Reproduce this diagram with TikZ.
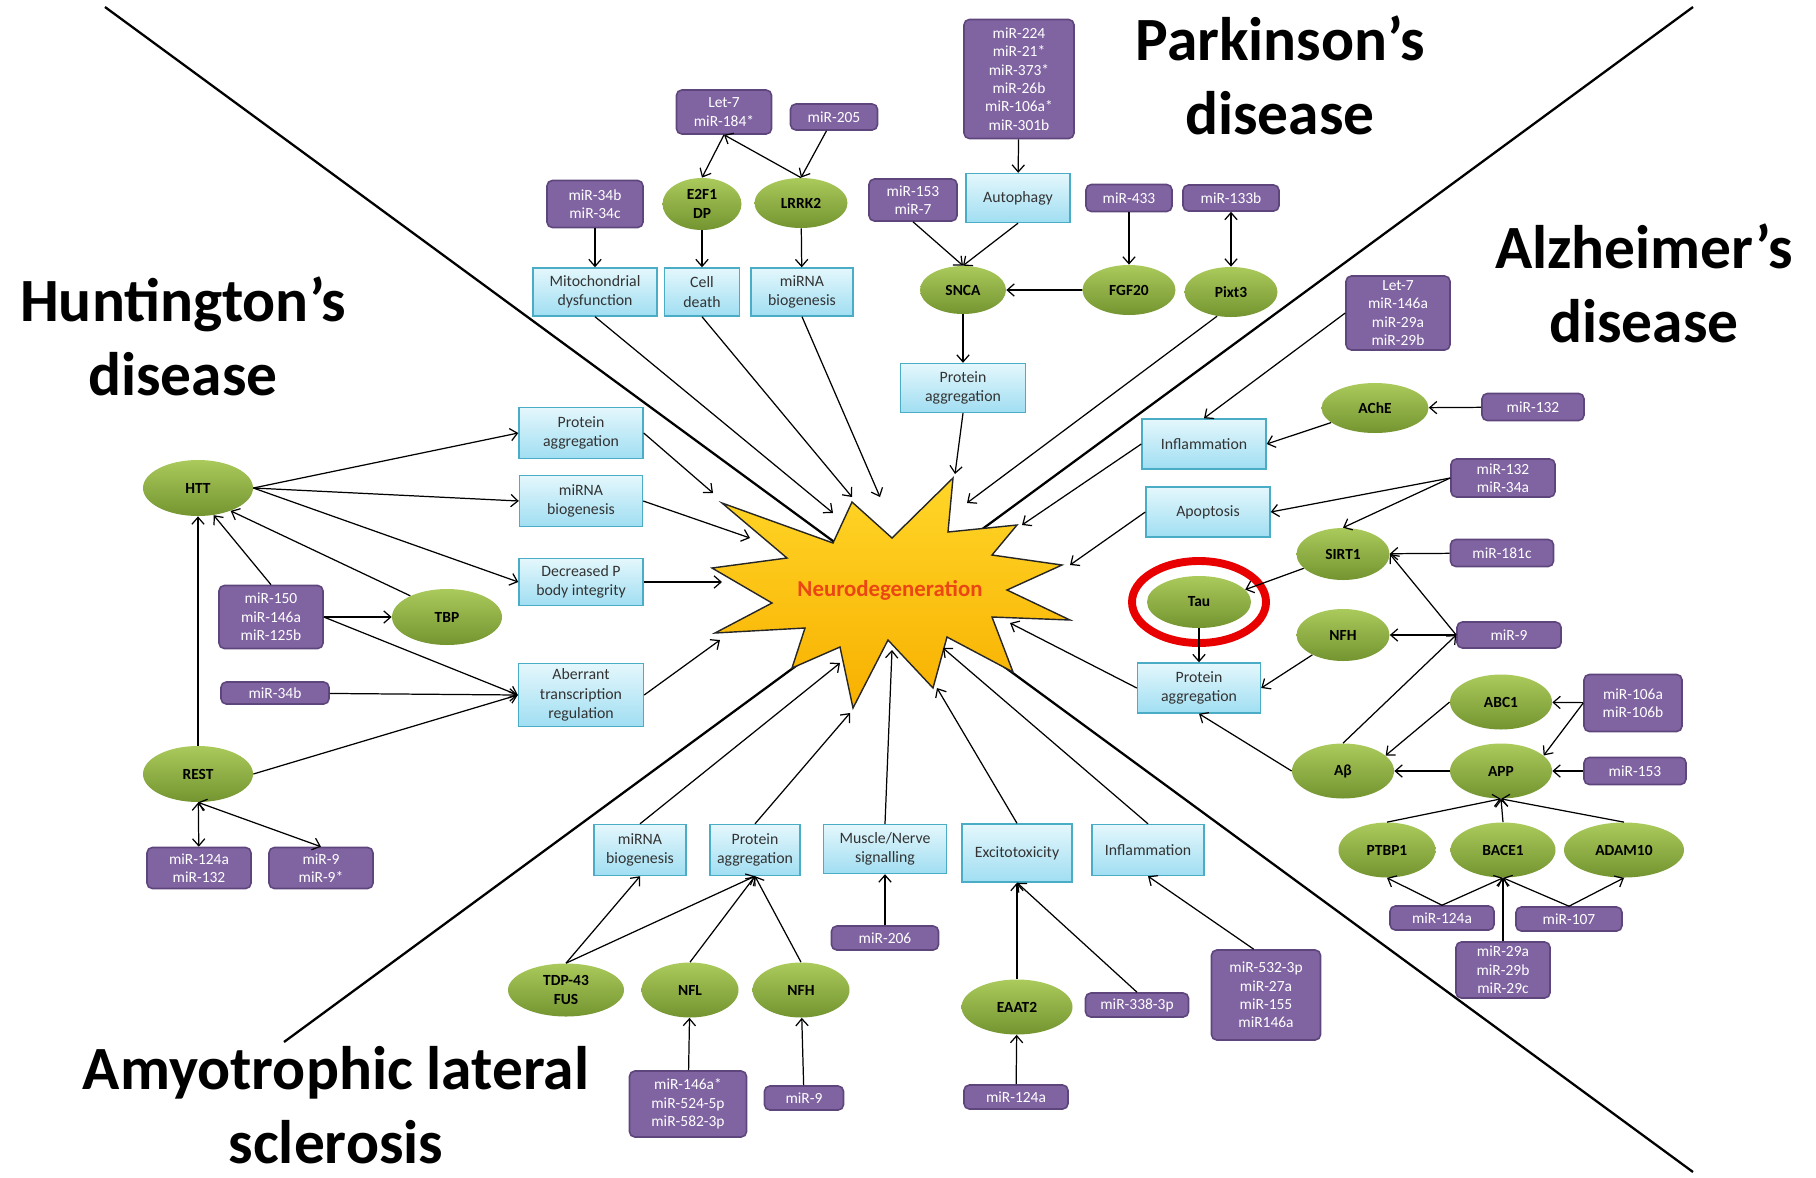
\documentclass[tikz,border=0pt]{standalone}
\usepackage{fontspec}
\setmainfont{Carlito}
\usetikzlibrary{shapes.geometric, arrows.meta}

\definecolor{mirfill}{RGB}{128,100,162}
\definecolor{mirline}{RGB}{94,70,125}
\definecolor{proctop}{RGB}{228,247,252}
\definecolor{procbot}{RGB}{160,222,242}
\definecolor{procline}{RGB}{75,172,198}
\definecolor{genetop}{RGB}{170,202,92}
\definecolor{genebot}{RGB}{116,148,48}
\definecolor{startop}{RGB}{255,214,40}
\definecolor{starbot}{RGB}{248,176,0}
\definecolor{neuro}{RGB}{235,70,20}
\definecolor{ringred}{RGB}{232,0,0}

\tikzset{
  sz/.style 2 args={minimum width=#1*0.02cm, minimum height=#2*0.02cm},
  mirna/.style={rectangle, rounded corners=3pt, draw=mirline, line width=0.9pt, fill=mirfill, text=white, font=\fontsize{8.8}{10.5}\selectfont, align=center, inner sep=1pt},
  effect/.style={rectangle, draw=procline, line width=0.8pt, top color=proctop, bottom color=procbot, text=black!80, font=\fontsize{9}{11}\selectfont, align=center, inner sep=1pt},
  gene/.style={ellipse, top color=genetop, bottom color=genebot, font=\fontsize{8.8}{11}\selectfont\bfseries, align=center, inner sep=0pt},
  disease/.style={font=\fontsize{35}{42}\selectfont\bfseries, align=center},
  conn/.style={-{Straight Barb[length=4pt, width=7pt]}, line width=0.7pt},
  conn2/.style={{Straight Barb[length=4pt, width=7pt]}-{Straight Barb[length=4pt, width=7pt]}, line width=0.7pt},
}

\begin{document}
\begin{tikzpicture}[x=0.02cm, y=-0.02cm]
\useasboundingbox (0, 0) rectangle (1816, 1177);

% quadrant lines
\coordinate (dTL) at (105, 7);
\coordinate (dBR) at (1693, 1172);
\coordinate (dTR) at (1693, 7);
\coordinate (dBL) at (284, 1042);
\draw [line width=1.3pt] (dTL) -- (dBR);
\draw [line width=1.3pt] (dTR) -- (dBL);

\node [disease] (tPD) at (1280, 75) {Parkinson’s\\disease};
\node [disease] (tAD) at (1644, 283) {Alzheimer’s\\disease};
\node [disease] (tHD) at (183, 336) {Huntington’s\\disease};
\node [disease] (tALS) at (336, 1105) {Amyotrophic lateral\\sclerosis};

% the star
\draw [top color=startop, bottom color=starbot, draw=black!85, line width=0.8pt]
  (722, 503) -- (833, 543) -- (852, 502) -- (892, 538) -- (953, 478) -- (948, 532)
  -- (1017, 525) -- (992, 555) -- (1062, 565) -- (1007, 590) -- (1070, 620) -- (992, 617)
  -- (1013, 672) -- (947, 637) -- (933, 688) -- (888, 640) -- (853, 708) -- (840, 647)
  -- (792, 668) -- (805, 628) -- (715, 633) -- (772, 603) -- (712, 568) -- (787, 558) -- cycle;
\node [font=\fontsize{13}{15}\selectfont\bfseries, text=neuro] (neuro) at (890, 590) {Neurodegeneration};

\coordinate (sHdProt) at (713, 493);
\coordinate (sHdBio) at (750, 538);
\coordinate (sHdPbody) at (722, 582);
\coordinate (sHdAberr) at (720, 640);
\coordinate (sMito) at (833, 513);
\coordinate (sDeath) at (852, 497);
\coordinate (sPdBio) at (880, 497);
\coordinate (sPdProt) at (955, 474);
\coordinate (sPixt) at (967, 503);
\coordinate (sAdInfl) at (1022, 525);
\coordinate (sAdApop) at (1070, 565);
\coordinate (sAdProt) at (1010, 623);
\coordinate (sAlsInfl) at (943, 648);
\coordinate (sAlsExc) at (937, 688);
\coordinate (sAlsMusc) at (892, 650);
\coordinate (sAlsProt) at (850, 713);
\coordinate (sAlsBio) at (840, 663);

% Parkinson's
\node [mirna, sz={110}{119}] (pdMirA) at (1019, 79) {miR-224\\miR-21*\\miR-373*\\miR-26b\\miR-106a*\\miR-301b};
\node [mirna, sz={95}{44}] (pdLet) at (724, 112) {Let-7\\miR-184*};
\node [mirna, sz={87}{26}] (pdMir205) at (834, 117) {miR-205};
\node [mirna, sz={96}{47}] (pdMir34) at (595, 204) {miR-34b\\miR-34c};
\node [gene, sz={79}{52}] (pdE2F) at (702, 204) {E2F1\\DP};
\node [gene, sz={93}{50}] (pdLRRK) at (801, 203) {LRRK2};
\node [mirna, sz={88}{42}] (pdMir153) at (913, 200) {miR-153\\miR-7};
\node [effect, sz={104}{49}] (pdAuto) at (1018, 198) {Autophagy};
\node [mirna, sz={86}{27}] (pdMir433) at (1129, 198) {miR-433};
\node [mirna, sz={96}{26}] (pdMir133) at (1231, 198) {miR-133b};
\node [effect, sz={124}{48}] (pdMito) at (595, 292) {Mitochondrial\\dysfunction};
\node [effect, sz={75}{48}] (pdDeath) at (702, 292) {Cell\\death};
\node [effect, sz={102}{48}] (pdBio) at (802, 292) {miRNA\\biogenesis};
\node [gene, sz={86}{48}] (pdSNCA) at (963, 290) {SNCA};
\node [gene, sz={93}{50}] (pdFGF) at (1129, 290) {FGF20};
\node [gene, sz={93}{50}] (pdPixt) at (1231, 292) {Pixt3};
\node [effect, sz={125}{49}] (pdProt) at (963, 388) {Protein\\aggregation};

% Alzheimer's
\node [mirna, sz={104}{74}] (adMirLet) at (1398, 313) {Let-7\\miR-146a\\miR-29a\\miR-29b};
\node [gene, sz={107}{50}] (adAChE) at (1375, 408) {AChE};
\node [mirna, sz={102}{27}] (adMir132) at (1533, 407) {miR-132};
\node [effect, sz={124}{50}] (adInfl) at (1204, 444) {Inflammation};
\node [mirna, sz={104}{38}] (adMir34) at (1503, 478) {miR-132\\miR-34a};
\node [effect, sz={124}{50}] (adApop) at (1208, 512) {Apoptosis};
\node [gene, sz={93}{52}] (adSIRT) at (1343, 554) {SIRT1};
\node [mirna, sz={103}{27}] (adMir181) at (1502, 553) {miR-181c};
\node [gene, sz={104}{52}] (adTau) at (1199, 602) {Tau};
\node [gene, sz={93}{52}] (adNFH) at (1343, 635) {NFH};
\node [mirna, sz={104}{26}] (adMir9) at (1509, 635) {miR-9};
\node [effect, sz={123}{50}] (adProt) at (1199, 688) {Protein\\aggregation};
\node [gene, sz={102}{55}] (adABC) at (1501, 702) {ABC1};
\node [mirna, sz={98}{57}] (adMir106) at (1633, 703) {miR-106a\\miR-106b};
\node [gene, sz={102}{55}] (adAbeta) at (1343, 771) {Aβ};
\node [gene, sz={102}{55}] (adAPP) at (1501, 771) {APP};
\node [mirna, sz={102}{27}] (adMir153) at (1635, 771) {miR-153};
\node [gene, sz={97}{55}] (adPTBP) at (1387, 850) {PTBP1};
\node [gene, sz={105}{55}] (adBACE) at (1503, 850) {BACE1};
\node [gene, sz={120}{55}] (adADAM) at (1624, 850) {ADAM10};
\node [mirna, sz={104}{24}] (adMir124) at (1442, 918) {miR-124a};
\node [mirna, sz={106}{24}] (adMir107) at (1569, 919) {miR-107};
\node [mirna, sz={94}{56}] (adMir29) at (1503, 970) {miR-29a\\miR-29b\\miR-29c};
\draw [ringred, line width=4.5pt] (adTau) ellipse [x radius=67, y radius=41];

% Huntington's
\node [effect, sz={124}{51}] (hdProt) at (581, 433) {Protein\\aggregation};
\node [effect, sz={123}{51}] (hdBio) at (581, 501) {miRNA\\biogenesis};
\node [effect, sz={124}{47}] (hdPbody) at (581, 582) {Decreased P\\body integrity};
\node [effect, sz={125}{63}] (hdAberr) at (581, 695) {Aberrant\\transcription\\regulation};
\node [gene, sz={110}{56}] (hdHTT) at (198, 488) {HTT};
\node [mirna, sz={104}{63}] (hdMir150) at (271, 617) {miR-150\\miR-146a\\miR-125b};
\node [gene, sz={110}{56}] (hdTBP) at (447, 617) {TBP};
\node [mirna, sz={108}{22}] (hdMir34) at (275, 693) {miR-34b};
\node [gene, sz={110}{56}] (hdREST) at (198, 774) {REST};
\node [mirna, sz={104}{41}] (hdMir124) at (199, 868) {miR-124a\\miR-132};
\node [mirna, sz={104}{41}] (hdMir9) at (321, 868) {miR-9\\miR-9*};

% Amyotrophic lateral sclerosis
\node [effect, sz={92}{51}] (alsBio) at (640, 850) {miRNA\\biogenesis};
\node [effect, sz={90}{51}] (alsProt) at (755, 850) {Protein\\aggregation};
\node [effect, sz={123}{49}] (alsMusc) at (885, 849) {Muscle/Nerve\\signalling};
\node [effect, sz={110}{58}] (alsExc) at (1017, 853) {Excitotoxicity};
\node [effect, sz={112}{51}] (alsInfl) at (1148, 850) {Inflammation};
\node [gene, sz={116}{53}] (alsTDP) at (566, 990) {TDP-43\\FUS};
\node [gene, sz={97}{55}] (alsNFL) at (690, 990) {NFL};
\node [gene, sz={97}{55}] (alsNFH) at (801, 990) {NFH};
\node [mirna, sz={107}{24}] (alsMir206) at (885, 938) {miR-206};
\node [gene, sz={111}{55}] (alsEAAT) at (1017, 1007) {EAAT2};
\node [mirna, sz={103}{24}] (alsMir338) at (1137, 1005) {miR-338-3p};
\node [mirna, sz={109}{90}] (alsMir532) at (1266, 995) {miR-532-3p\\miR-27a\\miR-155\\miR146a};
\node [mirna, sz={117}{66}] (alsMir146) at (688, 1104) {miR-146a*\\miR-524-5p\\miR-582-3p};
\node [mirna, sz={79}{24}] (alsMir9) at (804, 1098) {miR-9};
\node [mirna, sz={104}{24}] (alsMir124) at (1016, 1097) {miR-124a};

% Parkinson's links
\draw [conn] (pdLet.south) -- (pdE2F.north);
\draw [conn] (pdLRRK.north) -- (pdLet.south);
\draw [conn] (pdMir205) -- (pdLRRK.north);
\draw [conn] (pdMir34) -- (pdMito);
\draw [conn] (pdE2F) -- (pdDeath);
\draw [conn] (pdLRRK) -- (pdBio);
\draw [conn] (pdMirA) -- (pdAuto);
\draw [conn] (pdMir153.south) -- (pdSNCA.north);
\draw [conn] (pdAuto.south) -- (pdSNCA.north);
\draw [conn] (pdFGF) -- (pdSNCA);
\draw [conn] (pdMir433) -- (pdFGF);
\draw [conn2] (pdMir133) -- (pdPixt);
\draw [conn] (pdSNCA) -- (pdProt);
\draw [conn] (pdMito.south) -- (sMito);
\draw [conn] (pdDeath.south) -- (sDeath);
\draw [conn] (pdBio.south) -- (sPdBio);
\draw [conn] (pdProt.south) -- (sPdProt);
\draw [conn] (pdPixt.240) -- (sPixt);

% Alzheimer's links
\draw [conn] (adMirLet.west) -- (adInfl.north);
\draw [conn] (adMir132) -- (adAChE);
\draw [conn] (adAChE) -- (adInfl.east);
\draw [conn] (adMir34.west) -- (adApop.east);
\draw [conn] (adMir34.west) -- (adSIRT.north);
\draw [conn] (adMir181) -- (adSIRT);
\draw [conn] (adSIRT) -- (adTau.15);
\draw [conn] (adMir9) -- (adNFH);
\draw [conn] (adMir9.west) -- (adSIRT.east);
\draw [conn] (adAbeta.north) -- (adMir9.west);
\draw [conn] (adTau) -- (adProt);
\draw [conn] (adNFH) -- (adProt.east);
\draw [conn] (adAbeta.west) -- (adProt.south);
\draw [conn] (adAPP) -- (adAbeta);
\draw [conn] (adABC.west) -- (adAbeta.20);
\draw [conn] (adMir106) -- (adABC);
\draw [conn] (adMir106.west) -- (adAPP.20);
\draw [conn] (adMir153) -- (adAPP);
\draw [conn] (adPTBP.north) -- (adAPP.south);
\draw [conn] (adBACE.north) -- (adAPP.south);
\draw [conn] (adADAM.north) -- (adAPP.south);
\draw [conn] (adMir124.north) -- (adPTBP.south);
\draw [conn] (adMir124.north) -- (adBACE.south);
\draw [conn] (adMir107.north) -- (adBACE.south);
\draw [conn] (adMir107.north) -- (adADAM.south);
\draw [conn] (adMir29) -- (adBACE);
\draw [conn] (adInfl.west) -- (sAdInfl);
\draw [conn] (adApop.west) -- (sAdApop);
\draw [conn] (adProt.west) -- (sAdProt);

% Huntington's links
\draw [conn] (hdHTT.east) -- (hdProt.west);
\draw [conn] (hdHTT.east) -- (hdBio.west);
\draw [conn] (hdHTT.east) -- (hdPbody.west);
\draw [conn] (hdMir150.north) -- (hdHTT.-60);
\draw [conn] (hdTBP.150) -- (hdHTT.-35);
\draw [conn] (hdMir150) -- (hdTBP);
\draw [conn] (hdMir150.east) -- (hdAberr.west);
\draw [conn] (hdMir34) -- (hdAberr.west);
\draw [conn] (hdREST.east) -- (hdAberr.west);
\draw [conn] (hdREST) -- (hdHTT);
\draw [conn2] (hdREST) -- (hdMir124);
\draw [conn2] (hdREST.south) -- (hdMir9.north);
\draw [conn] (hdProt.east) -- (sHdProt);
\draw [conn] (hdBio.east) -- (sHdBio);
\draw [conn] (hdPbody.east) -- (sHdPbody);
\draw [conn] (hdAberr.east) -- (sHdAberr);

% ALS links
\draw [conn] (alsTDP.north) -- (alsBio.south);
\draw [conn] (alsTDP.north) -- (alsProt.south);
\draw [conn] (alsNFL.north) -- (alsProt.south);
\draw [conn] (alsNFH.north) -- (alsProt.south);
\draw [conn] (alsMir146) -- (alsNFL);
\draw [conn] (alsMir9) -- (alsNFH);
\draw [conn] (alsMir206) -- (alsMusc);
\draw [conn] (alsEAAT) -- (alsExc);
\draw [conn] (alsMir124) -- (alsEAAT);
\draw [conn] (alsMir338.north) -- (alsExc.south);
\draw [conn] (alsMir532.105) -- (alsInfl.south);
\draw [conn] (alsBio.north) -- (sAlsBio);
\draw [conn] (alsProt.north) -- (sAlsProt);
\draw [conn] (alsMusc.north) -- (sAlsMusc);
\draw [conn] (alsExc.north) -- (sAlsExc);
\draw [conn] (alsInfl.north) -- (sAlsInfl);
\end{tikzpicture}
\end{document}
